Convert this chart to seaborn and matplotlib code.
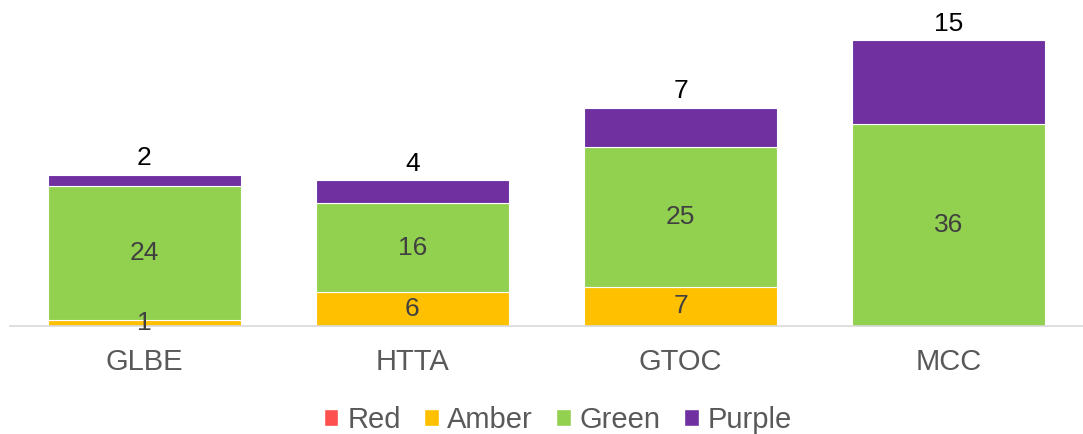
import numpy as np
import matplotlib
matplotlib.use("Agg")
import matplotlib.pyplot as plt
from matplotlib.patches import Patch
import seaborn as sns

# data
categories = ["GLBE", "HTTA", "GTOC", "MCC"]
red = [0, 0, 0, 0]
amber = [1, 6, 7, 0]
green = [24, 16, 25, 36]
purple = [2, 4, 7, 15]

series_names = ["Red", "Amber", "Green", "Purple"]
series_colors = ["#FF5050", "#FFC000", "#92D050", "#7030A0"]

sns.set_theme(style="white")
plt.rcParams["font.family"] = ["Liberation Sans", "DejaVu Sans"]

fig = plt.figure(figsize=(10.83, 4.34), dpi=100)
ax = fig.add_axes([10 / 1083, 108 / 434, 1073 / 1083, 326 / 434])

bottom = np.zeros(len(categories))
for name, vals, col in zip(series_names, [red, amber, green, purple], series_colors):
    vals = np.array(vals, dtype=float)
    sns.barplot(x=categories, y=vals, bottom=bottom, color=col, saturation=1,
                width=0.72, edgecolor="white", linewidth=0.8, ax=ax)
    for i, v in enumerate(vals):
        if v == 0:
            continue
        if name == "Purple":
            ax.text(i, bottom[i] + v + 0.8, f"{int(v)}", ha="center", va="bottom",
                    fontsize=19, color="black")
        else:
            ax.text(i, bottom[i] + v / 2, f"{int(v)}", ha="center", va="center",
                    fontsize=19, color="#404040")
    bottom += vals

ax.set_xlim(-0.5, 3.5)
ax.set_ylim(0, 58.2)
for s in ["top", "right", "left"]:
    ax.spines[s].set_visible(False)
ax.spines["bottom"].set_color("#D9D9D9")
ax.spines["bottom"].set_linewidth(1.2)
ax.set_yticks([])
ax.set_ylabel("")
ax.tick_params(axis="x", length=0, pad=16, labelsize=21, labelcolor="#595959")

handles = [Patch(facecolor=c, label=n) for n, c in zip(series_names, series_colors)]
fig.legend(handles=handles, loc="center", bbox_to_anchor=(0.515, 0.032), ncol=4,
           frameon=False, fontsize=21, labelcolor="#595959", handlelength=0.5,
           handleheight=0.5, handletextpad=0.3, columnspacing=0.8)

fig.savefig("out.png", dpi=100)
